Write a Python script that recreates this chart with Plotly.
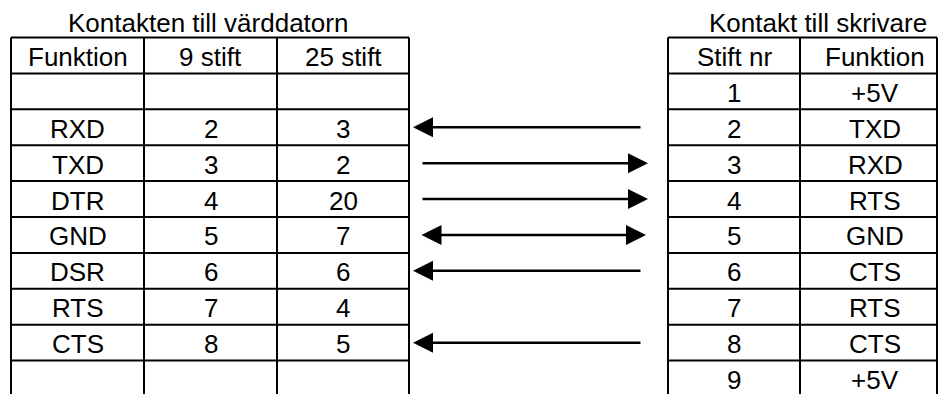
import plotly.graph_objects as go

# ---- data ----
host_title = "Kontakten till värddatorn"
printer_title = "Kontakt till skrivare"
host_funktion = ["Funktion", "", "RXD", "TXD", "DTR", "GND", "DSR", "RTS", "CTS", ""]
host_9pin = ["9 stift", "", "2", "3", "4", "5", "6", "7", "8", ""]
host_25pin = ["25 stift", "", "3", "2", "20", "7", "6", "4", "5", ""]
printer_pin = ["Stift nr", "1", "2", "3", "4", "5", "6", "7", "8", "9"]
printer_funktion = ["Funktion", "+5V", "TXD", "RXD", "RTS", "GND", "CTS", "RTS", "CTS", "+5V"]
arrow_dir = ["", "", "left", "right", "right", "both", "left", "", "left", ""]

# ---- layout geometry (pixel-like axis units) ----
W, H = 939, 394
TOP, ROW_H = 37.5, 35.9
host_cols = [11, 144, 277, 409]
printer_cols = [668, 800, 937]
printer_centers = [734, 875]
arrow_x = {"left": (642, 413), "right": (421, 648), "both": (420, 646)}
FONT = dict(family="Liberation Sans, Arial, sans-serif", size=26, color="black")
LINE = dict(color="black", width=2)

n_rows = len(host_funktion)
row_lines = [TOP + ROW_H * i for i in range(n_rows)]
row_centers = [TOP + ROW_H * (i + 0.5) for i in range(n_rows)]

fig = go.Figure()
shapes = []
annotations = []

def draw_table(cols, ytop):
    for x in cols:
        shapes.append(dict(type="line", x0=x, x1=x, y0=ytop, y1=H + 10, line=LINE, xref="x", yref="y"))
    for y in row_lines:
        shapes.append(dict(type="line", x0=cols[0], x1=cols[-1], y0=y, y1=y, line=LINE, xref="x", yref="y"))

draw_table(host_cols, TOP)
draw_table(printer_cols, TOP)

host_centers = [(host_cols[i] + host_cols[i + 1]) / 2 for i in range(3)]
for col_vals, xc in zip([host_funktion, host_9pin, host_25pin], host_centers):
    for txt, yc in zip(col_vals, row_centers):
        if txt:
            annotations.append(dict(x=xc, y=yc + 1.5, text=txt, showarrow=False, font=FONT,
                                    xanchor="center", yanchor="middle"))
for col_vals, xc in zip([printer_pin, printer_funktion], printer_centers):
    for txt, yc in zip(col_vals, row_centers):
        if txt:
            annotations.append(dict(x=xc, y=yc + 1.5, text=txt, showarrow=False, font=FONT,
                                    xanchor="center", yanchor="middle"))

# titles
annotations.append(dict(x=208, y=23, text=host_title, showarrow=False,
                        font=FONT, xanchor="center", yanchor="middle"))
annotations.append(dict(x=818, y=23, text=printer_title, showarrow=False,
                        font=FONT, xanchor="center", yanchor="middle"))

# arrows
for d, yc in zip(arrow_dir, row_centers):
    if not d:
        continue
    tail, tip = arrow_x[d]
    annotations.append(dict(x=tip, y=yc, ax=tail, ay=yc, xref="x", yref="y", axref="x", ayref="y",
                            text="", showarrow=True, arrowhead=2, arrowsize=1.6, arrowwidth=2.5,
                            arrowcolor="black", standoff=0, startstandoff=0,
                            arrowside="end+start" if d == "both" else "end",
                            startarrowhead=2, startarrowsize=1.6))

fig.update_layout(
    width=W, height=H,
    margin=dict(l=0, r=0, t=0, b=0),
    paper_bgcolor="white", plot_bgcolor="white",
    xaxis=dict(range=[0, W], visible=False, fixedrange=True),
    yaxis=dict(range=[H, 0], visible=False, fixedrange=True),
    shapes=shapes, annotations=annotations, showlegend=False,
)
fig.write_html("out.html", config={"displayModeBar": False},
               post_script="document.body.style.margin='0';document.body.style.overflow='hidden';")
